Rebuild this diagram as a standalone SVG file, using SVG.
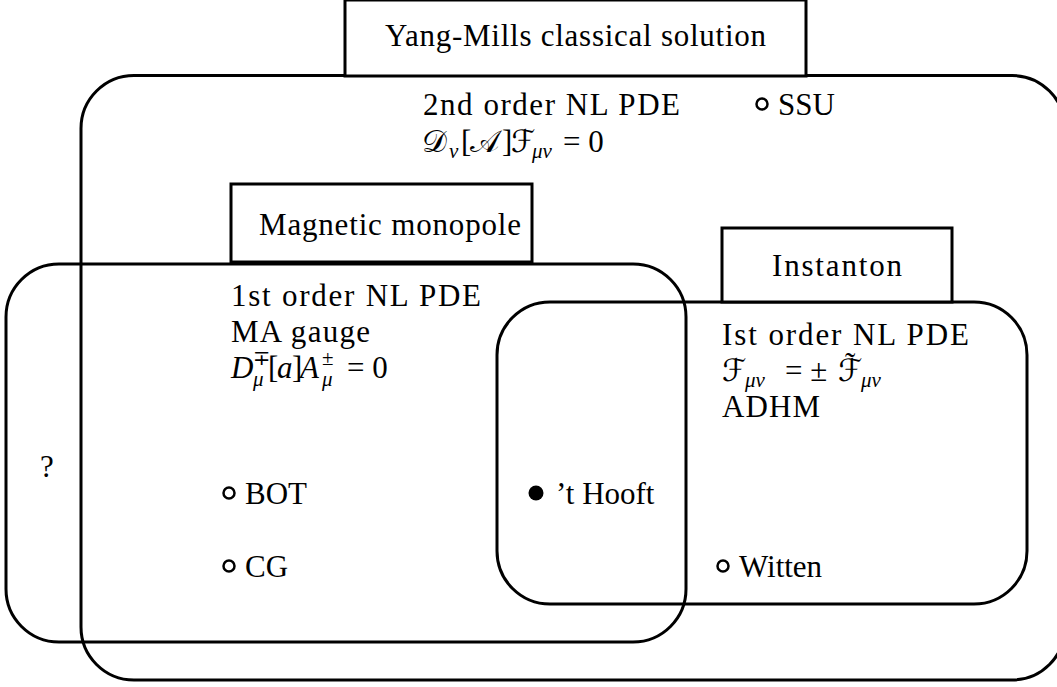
<svg xmlns="http://www.w3.org/2000/svg" width="1057" height="687" viewBox="0 0 1057 687">
<style>
.frame{fill:none;stroke:#000;stroke-width:3}
.box{fill:#fff;stroke:#000;stroke-width:3}
.t{font-family:"Liberation Serif","DejaVu Serif",serif;font-size:31px;fill:#000}
.m{font-family:"Liberation Serif","DejaVu Serif","DejaVu Sans",serif;font-size:31px;font-style:italic;fill:#000}
.c{font-family:"DejaVu Sans","Liberation Serif",serif;font-size:31px;font-style:normal;fill:#000}
.r{font-style:normal}
.s{font-size:21px}
.pt{fill:none;stroke:#000;stroke-width:2.5}
.pf{fill:#000}
</style>
<rect width="1057" height="687" fill="#fff"/>
<g id="yang-mills">
<rect class="frame" x="81" y="75.5" width="984" height="604.5" rx="53" ry="53"/>
<rect class="box" x="345" y="0" width="461" height="76"/>
<text class="t" x="385" y="46" textLength="381" lengthAdjust="spacing">Yang-Mills classical solution</text>
<text class="t" x="423" y="115" textLength="257" lengthAdjust="spacing">2nd order NL PDE</text>
<text class="c" x="422" y="152">𝒟</text>
<text class="m s" x="449" y="158">ν</text>
<text class="m r" x="461" y="152">[</text>
<text class="c" x="470" y="152">𝒜</text>
<text class="m r" x="502" y="152">]</text>
<text class="c" x="511" y="152">ℱ</text>
<text class="m s" x="532" y="158">μν</text>
<text class="m r" x="563" y="152">= 0</text>
</g>
<g id="monopole">
<rect class="frame" x="6" y="264" width="680" height="378" rx="53" ry="53"/>
<rect class="box" x="231" y="184" width="301" height="78"/>
<text class="t" x="259" y="235" textLength="262" lengthAdjust="spacing">Magnetic monopole</text>
<text class="t" x="231" y="306" textLength="250" lengthAdjust="spacing">1st order NL PDE</text>
<text class="t" x="231" y="342" textLength="139" lengthAdjust="spacing">MA gauge</text>
<text class="m" x="231" y="378">D</text>
<text class="m r s" x="253" y="365">∓</text>
<text class="m s" x="253" y="386">μ</text>
<text class="m r" x="268" y="378">[</text>
<text class="m" x="277" y="378">a</text>
<text class="m r" x="292" y="378">]</text>
<text class="m" x="300" y="378">A</text>
<text class="m r s" x="322" y="365">±</text>
<text class="m s" x="322" y="386">μ</text>
<text class="m r" x="347" y="378">= 0</text>
</g>
<g id="instanton">
<rect class="frame" x="497" y="302" width="530" height="302" rx="53" ry="53"/>
<rect class="box" x="722" y="228" width="230" height="74"/>
<text class="t" x="772" y="276" textLength="130" lengthAdjust="spacing">Instanton</text>
<text class="t" x="722" y="345" textLength="247" lengthAdjust="spacing">Ist order NL PDE</text>
<text class="c" x="722" y="381">ℱ</text>
<text class="m s" x="745" y="387">μν</text>
<text class="m r" x="785" y="381">= ±</text>
<text class="c" x="838" y="381">ℱ</text>
<text class="t" x="845" y="374">˜</text>
<text class="m s" x="861" y="387">μν</text>
<text class="t" x="722" y="417" textLength="98" lengthAdjust="spacing">ADHM</text>
</g>
<g id="point-ssu">
<circle class="pt" cx="762" cy="104" r="5.5"/>
<text class="t" x="778" y="115">SSU</text>
</g>
<g id="point-bot">
<circle class="pt" cx="229" cy="493" r="5.5"/>
<text class="t" x="245" y="504">BOT</text>
</g>
<g id="point-cg">
<circle class="pt" cx="229" cy="566" r="5.5"/>
<text class="t" x="245" y="577">CG</text>
</g>
<g id="point-thooft">
<circle class="pf" cx="536" cy="493" r="7.5"/>
<text class="t" x="556" y="504">’t Hooft</text>
</g>
<g id="point-witten">
<circle class="pt" cx="723" cy="566" r="5.5"/>
<text class="t" x="739" y="577">Witten</text>
</g>
<g id="unknown">
<text class="t" x="40" y="477">?</text>
</g>
<g id="connectors"></g>
</svg>
